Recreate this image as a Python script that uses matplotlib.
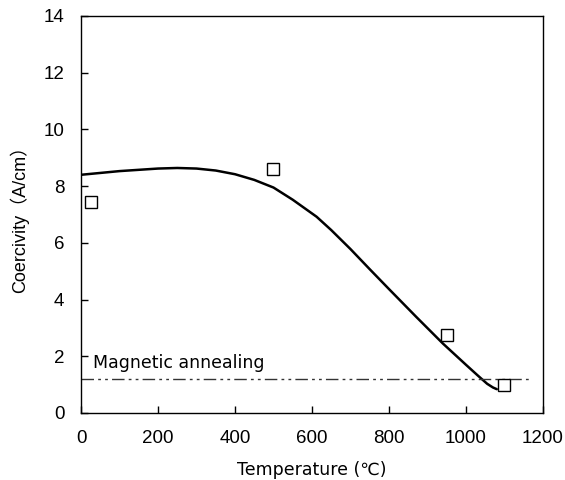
import matplotlib.pyplot as plt

# data
temp_pts = [25, 500, 950, 1100]
coerc_pts = [7.45, 8.6, 2.75, 1.0]

curve_t = [0, 100, 200, 250, 300, 350, 400, 450, 500, 550, 612, 650, 700, 750,
           800, 870, 940, 1000, 1030, 1055, 1070, 1080]
curve_c = [8.40, 8.53, 8.62, 8.64, 8.62, 8.55, 8.42, 8.22, 7.95, 7.52, 6.92, 6.45,
           5.78, 5.07, 4.37, 3.40, 2.45, 1.70, 1.33, 1.03, 0.90, 0.84]

anneal_level = 1.2
anneal_x = [0, 1170]

plt.rcParams['font.family'] = ['Liberation Sans', 'Noto Sans CJK JP', 'DejaVu Sans']

fig = plt.figure(figsize=(5.65, 4.8), dpi=100)
ax = fig.add_axes([0.1434, 0.1396, 0.8176, 0.8271])

ax.plot(curve_t, curve_c, color='black', lw=1.8, solid_capstyle='round',
        solid_joinstyle='round')
ax.plot(anneal_x, [anneal_level, anneal_level], color='#333333', lw=1.0,
        dashes=(9, 3, 2, 3, 2, 3))
ax.plot(temp_pts, coerc_pts, linestyle='none', marker='s', ms=9,
        mfc='white', mec='black', mew=1.0)

ax.text(30, 1.75, 'Magnetic annealing', fontsize=12.5, va='center', ha='left',
        family='DejaVu Sans')

ax.set_xlim(0, 1200)
ax.set_ylim(0, 14)
ax.set_xticks(range(0, 1201, 200))
ax.set_yticks(range(0, 15, 2))
ax.tick_params(direction='in', length=5, width=1, labelsize=13.5, pad=12)
ax.set_xlabel('Temperature (℃)', fontsize=12.5, labelpad=10,
              family=['DejaVu Sans', 'Noto Sans CJK JP'])
ax.set_ylabel('Coercivity（A/cm）', fontsize=13, labelpad=10)
for s in ax.spines.values():
    s.set_linewidth(1.0)

fig.savefig('out.png', dpi=100)
